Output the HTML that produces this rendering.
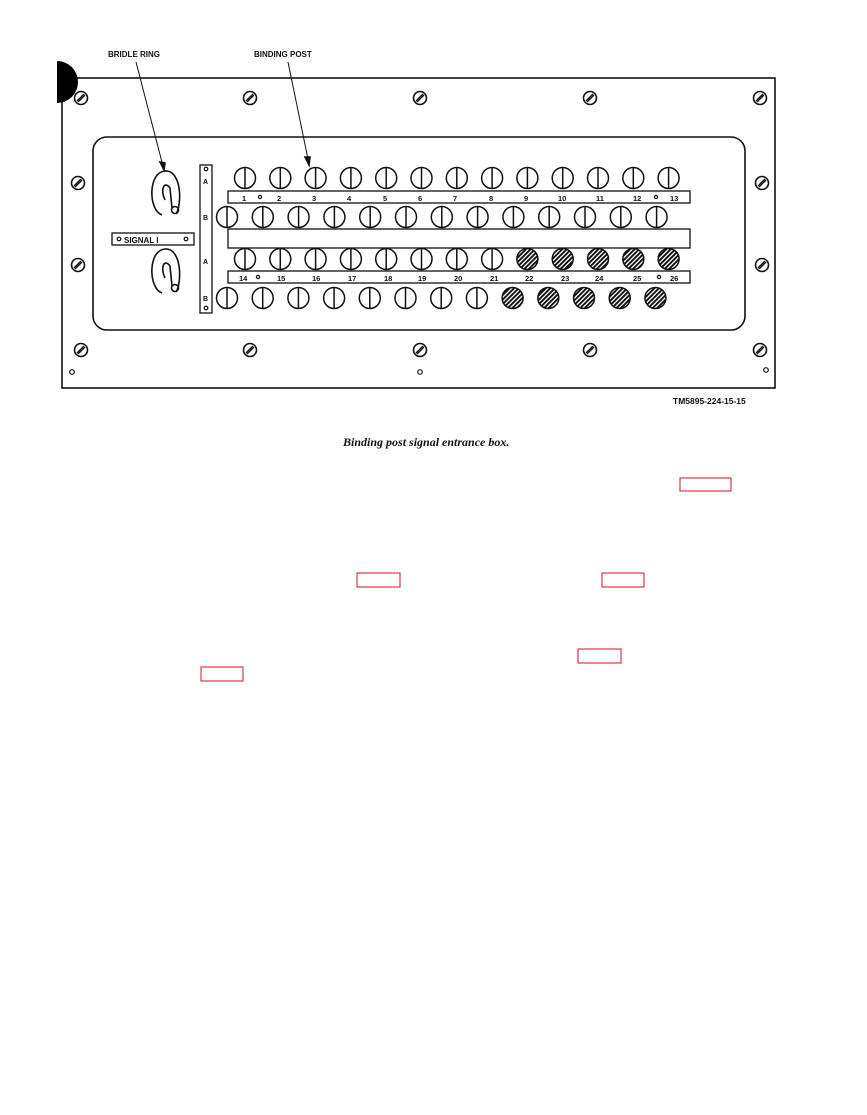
<!DOCTYPE html>
<html><head><meta charset="utf-8"><style>
html,body{margin:0;padding:0;background:#fff;}
svg{display:block}
</style></head><body>
<svg id="s" width="867" height="1115" viewBox="0 0 867 1115" xmlns="http://www.w3.org/2000/svg" font-family="Liberation Sans, sans-serif">
<defs>
<pattern id="h" width="3.2" height="3.2" patternUnits="userSpaceOnUse" patternTransform="rotate(45)">
<rect width="3.2" height="3.2" fill="#fff"/><rect width="1.9" height="3.2" fill="#111"/></pattern>
</defs>
<g stroke="#111" fill="none" stroke-width="1.6">
<rect x="62" y="78" width="713" height="310"/>
<rect x="93" y="137" width="652" height="193" rx="14"/>
<rect x="200" y="165" width="12" height="148" stroke-width="1.3"/>
<rect x="228" y="191" width="462" height="12" stroke-width="1.3"/>
<rect x="228" y="229" width="462" height="19" stroke-width="1.3"/>
<rect x="228" y="271" width="462" height="12" stroke-width="1.3"/>
<rect x="112" y="233" width="82" height="12" stroke-width="1.3"/>
<line x1="136" y1="62" x2="164" y2="170" stroke-width="1"/>
<line x1="288" y1="62" x2="309" y2="164" stroke-width="1"/>
<path d="M164 170 l-4 -8 l5 1z" fill="#111"/>
<path d="M309 165 l-4 -8 l5 0z" fill="#111"/>
<path d="M162 215 C148 210 148 172 165 171 C182 170 182 205 176 214" />
<path d="M165 200 C160 190 164 180 170 188 L172 208" />
<circle cx="175" cy="210" r="3.5"/>
<path d="M162 293 C148 288 148 250 165 249 C182 248 182 283 176 292" />
<path d="M165 278 C160 268 164 258 170 266 L172 286" />
<circle cx="175" cy="288" r="3.5"/>
</g>
<circle cx="57" cy="82" r="21" fill="#000"/>
<rect x="30" y="55" width="27" height="55" fill="#fff"/>
<g id="g"></g>
<g font-size="8" font-weight="bold" fill="#111">
<text x="108" y="57">BRIDLE RING</text>
<text x="254" y="57">BINDING POST</text>
<text x="124" y="243">SIGNAL I</text>
<text x="203" y="184" font-size="7">A</text>
<text x="203" y="220" font-size="7">B</text>
<text x="203" y="264" font-size="7">A</text>
<text x="203" y="301" font-size="7">B</text>
<text x="673" y="404" font-size="8.5">TM5895-224-15-15</text>
</g>
<text x="343" y="446" font-family="Liberation Serif, serif" font-style="italic" font-weight="bold" font-size="12" fill="#111">Binding post signal entrance box.</text>
<g fill="none" stroke="#d01020" stroke-width="1">
<rect x="680" y="478" width="51" height="13"/>
<rect x="357" y="573" width="43" height="14"/>
<rect x="602" y="573" width="42" height="14"/>
<rect x="578" y="649" width="43" height="14"/>
<rect x="201" y="667" width="42" height="14"/>
</g>
</svg>
<script>
var g=document.getElementById('g'),h='';
function post(x,y,hatch){
 if(hatch) h+='<circle cx="'+x+'" cy="'+y+'" r="10.5" fill="url(#h)" stroke="#111" stroke-width="1.5"/>';
 else h+='<circle cx="'+x+'" cy="'+y+'" r="10.5" fill="#fff" stroke="#111" stroke-width="1.5"/><line x1="'+x+'" y1="'+(y-10)+'" x2="'+x+'" y2="'+(y+10)+'" stroke="#111" stroke-width="1.5"/>';
}
function screw(x,y){h+='<circle cx="'+x+'" cy="'+y+'" r="6.5" fill="#fff" stroke="#111" stroke-width="1.6"/><line x1="'+(x-4)+'" y1="'+(y+3)+'" x2="'+(x+3)+'" y2="'+(y-4)+'" stroke="#111" stroke-width="1.4"/><line x1="'+(x-3)+'" y1="'+(y+4)+'" x2="'+(x+4)+'" y2="'+(y-3)+'" stroke="#111" stroke-width="1.4"/>';}
function sc(x,y,r){h+='<circle cx="'+x+'" cy="'+y+'" r="'+(r||2.3)+'" fill="#fff" stroke="#111" stroke-width="1.2"/>';}
for(var i=0;i<13;i++){
 post(245+i*35.3,178,false);
 post(227+i*35.8,217,false);
 post(245+i*35.3,259,i>=8);
 post(227+i*35.7,298,i>=8);
}
[81,250,420,590,760].forEach(function(x){screw(x,98);screw(x,350);});
[183,265].forEach(function(y){screw(78,y);screw(762,y);});
sc(72,372);sc(420,372);sc(766,370);
sc(206,169,1.8);sc(206,308,1.8);sc(119,239,1.8);sc(186,239,1.8);
sc(260,197,1.6);sc(656,197,1.6);sc(258,277,1.6);sc(659,277,1.6);
var labs=['1','2','3','4','5','6','7','8','9','10','11','12','13'];
var tx=[242,277,312,347,383,418,453,489,524,558,596,633,670];
var bx=[239,277,312,348,384,418,454,490,525,561,595,633,670];
for(var i=0;i<13;i++){
 h+='<text x="'+tx[i]+'" y="201" font-size="7.5" font-weight="bold" fill="#111">'+labs[i]+'</text>';
 h+='<text x="'+bx[i]+'" y="281" font-size="7.5" font-weight="bold" fill="#111">'+(14+i)+'</text>';
}
g.innerHTML=h;
</script>
</body></html>
